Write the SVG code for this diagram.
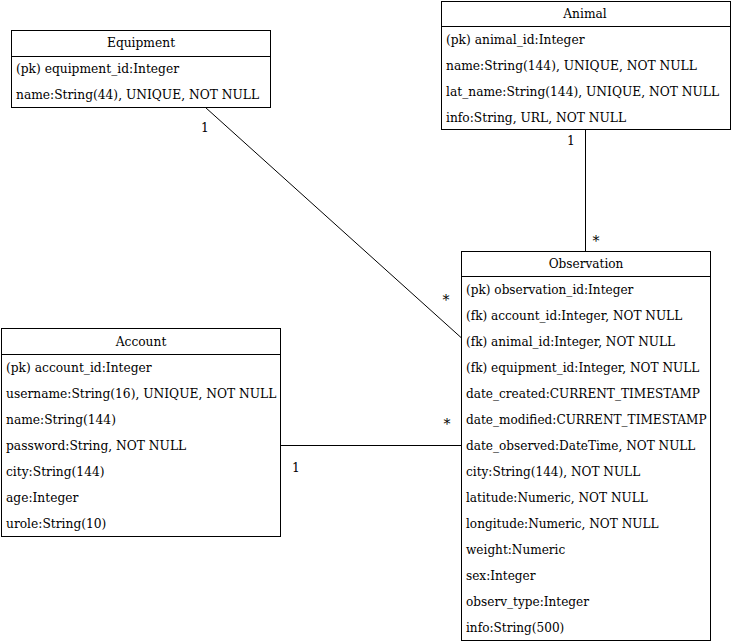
<svg xmlns="http://www.w3.org/2000/svg" width="731" height="644" viewBox="0 0 731 644">
<style>
.box{fill:#fff;stroke:#000;stroke-width:1}
.div{stroke:#000;stroke-width:1}
text{font-family:"DejaVu Serif",serif;font-size:12.25px;fill:#000}
#observation text{font-size:12.1px}
.t{text-anchor:middle}
.c{stroke:#000;stroke-width:1;fill:none}
.m{font-size:14px}
</style>
<rect width="731" height="644" fill="#fff"/>
<g id="connectors">
<line class="c" x1="205.5" y1="107.5" x2="461" y2="337.5"/>
<line class="c" x1="585.5" y1="129" x2="585.5" y2="251"/>
<line class="c" x1="280" y1="445.5" x2="461" y2="445.5"/>
<text x="205" y="132" class="t">1</text>
<text x="446" y="305" class="t m">*</text>
<text x="571" y="145" class="t">1</text>
<text x="596" y="246" class="t m">*</text>
<text x="296" y="472" class="t">1</text>
<text x="447" y="429" class="t m">*</text>
</g>
<g id="equipment">
<rect class="box" x="11.5" y="30.5" width="259" height="77"/>
<line class="div" x1="11.5" y1="56.5" x2="270.5" y2="56.5"/>
<text x="141" y="47" class="t">Equipment</text>
<text x="16" y="73">(pk) equipment_id:Integer</text>
<text x="16" y="99">name:String(44), UNIQUE, NOT NULL</text>
</g>
<g id="animal">
<rect class="box" x="441.5" y="1.5" width="289" height="128"/>
<line class="div" x1="441.5" y1="26.5" x2="730.5" y2="26.5"/>
<text x="585" y="18" class="t">Animal</text>
<text x="446" y="44">(pk) animal_id:Integer</text>
<text x="446" y="70">name:String(144), UNIQUE, NOT NULL</text>
<text x="446" y="96">lat_name:String(144), UNIQUE, NOT NULL</text>
<text x="446" y="122">info:String, URL, NOT NULL</text>
</g>
<g id="observation">
<rect class="box" x="461.5" y="251.5" width="249" height="389"/>
<line class="div" x1="461.5" y1="276.5" x2="710.5" y2="276.5"/>
<text x="586" y="268" class="t">Observation</text>
<text x="466" y="294">(pk) observation_id:Integer</text>
<text x="466" y="320">(fk) account_id:Integer, NOT NULL</text>
<text x="466" y="346">(fk) animal_id:Integer, NOT NULL</text>
<text x="466" y="372">(fk) equipment_id:Integer, NOT NULL</text>
<text x="466" y="398">date_created:CURRENT_TIMESTAMP</text>
<text x="466" y="424">date_modified:CURRENT_TIMESTAMP</text>
<text x="466" y="450">date_observed:DateTime, NOT NULL</text>
<text x="466" y="476">city:String(144), NOT NULL</text>
<text x="466" y="502">latitude:Numeric, NOT NULL</text>
<text x="466" y="528">longitude:Numeric, NOT NULL</text>
<text x="466" y="554">weight:Numeric</text>
<text x="466" y="580">sex:Integer</text>
<text x="466" y="606">observ_type:Integer</text>
<text x="466" y="632">info:String(500)</text>
</g>
<g id="account">
<rect class="box" x="1.5" y="328.5" width="279" height="208"/>
<line class="div" x1="1.5" y1="354.5" x2="280.5" y2="354.5"/>
<text x="141" y="346" class="t">Account</text>
<text x="6" y="372">(pk) account_id:Integer</text>
<text x="6" y="398">username:String(16), UNIQUE, NOT NULL</text>
<text x="6" y="424">name:String(144)</text>
<text x="6" y="450">password:String, NOT NULL</text>
<text x="6" y="476">city:String(144)</text>
<text x="6" y="502">age:Integer</text>
<text x="6" y="528">urole:String(10)</text>
</g>
</svg>
